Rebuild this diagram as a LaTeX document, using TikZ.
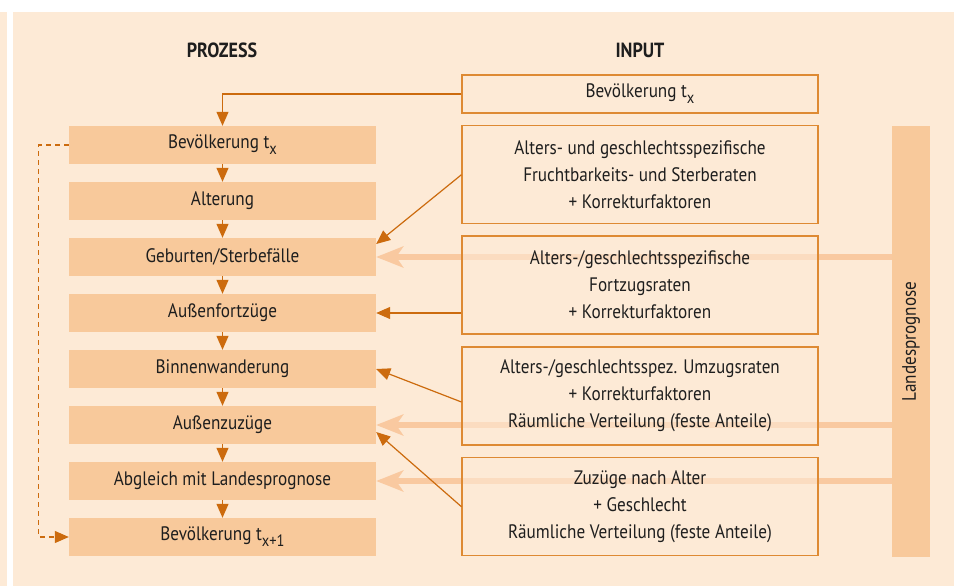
\documentclass[tikz,border=0pt]{standalone}
\usepackage{fontspec}
\setmainfont{PT Sans}[FakeStretch=0.88]
\usetikzlibrary{arrows.meta}
\definecolor{bg}{HTML}{FDEAD6}
\definecolor{pbox}{HTML}{F8C99B}
\definecolor{iborder}{HTML}{DE8A33}
\definecolor{arr}{HTML}{CC6B0E}
\definecolor{thickc}{HTML}{F9C9A0}
\definecolor{txt}{HTML}{1E1E1E}
\newcommand{\subx}[1]{\raisebox{-6pt}{\fontsize{16.5}{16.5}\selectfont #1}}
\tikzset{
  proc/.style={fill=pbox, draw=none, minimum width=307pt, minimum height=38pt, inner sep=0pt, text=txt},
  inbox/.style={fill=bg, fill opacity=0.6, text opacity=1, draw=iborder, line width=1.1pt, minimum width=356pt, inner sep=0pt, align=center, text=txt},
  barbox/.style={fill=pbox, draw=none, minimum width=38pt, minimum height=430.7pt, inner sep=0pt},
  arrs/.style={draw=arr, line width=1.2pt, -{Triangle[length=14pt,width=12pt]}},
  thickarr/.style={draw=thickc, line width=6pt, -{Stealth[length=27pt,width=21pt,inset=7pt]}},
  ttl/.style={font=\fontsize{20.5}{22}\selectfont\bfseries, text=txt}
}
\begin{document}
\begin{tikzpicture}[x=1pt,y=-1pt, font=\fontsize{19.5}{27}\selectfont]
\useasboundingbox (0,0) rectangle (954,586);
\fill[white] (0,0) rectangle (954,586);
\fill[bg] (0,12) rectangle (7,586);
\fill[bg] (13,12) rectangle (954,586);

\node[ttl] (tp) at (222,50) {PROZESS};
\node[ttl] (ti) at (640,50) {INPUT};

\node[proc] (p1) at (222.5,145) {Bevölkerung t\subx{x}};
\node[proc] (p2) at (222.5,201) {Alterung};
\node[proc] (p3) at (222.5,257) {Geburten/Sterbefälle};
\node[proc] (p4) at (222.5,313) {Außenfortzüge};
\node[proc] (p5) at (222.5,369) {Binnenwanderung};
\node[proc] (p6) at (222.5,425) {Außenzuzüge};
\node[proc] (p7) at (222.5,481) {Abgleich mit Landesprognose};
\node[proc] (p8) at (222.5,537) {Bevölkerung t\subx{x+1}};

\node[barbox] (bar) at (911,341.3) {};
\node[rotate=90, text=txt] (bart) at (bar.center) {Landesprognose};

\draw[thickarr] (bar.west |- p3.east) -- (p3.east);
\draw[thickarr] (bar.west |- p6.east) -- (p6.east);
\draw[thickarr] (bar.west |- p7.east) -- (p7.east);

\node[inbox, minimum height=38pt] (i1) at (640,94) {Bevölkerung t\subx{x}};
\node[inbox, minimum height=98pt] (i2) at (640,174.7) {Alters- und geschlechtsspezifische\\Fruchtbarkeits- und Sterberaten\\+ Korrekturfaktoren};
\node[inbox, minimum height=98pt] (i3) at (640,285) {Alters-/geschlechtsspezifische\\Fortzugsraten\\+ Korrekturfaktoren};
\node[inbox, minimum height=98pt] (i4) at (640,396) {Alters-/geschlechtsspez. Umzugsraten\\+ Korrekturfaktoren\\Räumliche Verteilung (feste Anteile)};
\node[inbox, minimum height=98pt] (i5) at (640,506.7) {Zuzüge nach Alter\\+ Geschlecht\\Räumliche Verteilung (feste Anteile)};

\draw[arrs] (p1.south) -- (p2.north);
\draw[arrs] (p2.south) -- (p3.north);
\draw[arrs] (p3.south) -- (p4.north);
\draw[arrs] (p4.south) -- (p5.north);
\draw[arrs] (p5.south) -- (p6.north);
\draw[arrs] (p6.south) -- (p7.north);
\draw[arrs] (p7.south) -- (p8.north);

\draw[arrs] (i1.west) -| (p1.north);
\draw[arrs, dash pattern=on 5pt off 4pt] (p1.west) -- ++(-30,0) |- (p8.west);

\draw[arrs] (i2.west) -- ([yshift=13pt]p3.east);
\draw[arrs] (i3.west |- p4.east) -- (p4.east);
\draw[arrs] ([yshift=-6pt]i4.west) -- (p5.east);
\draw[arrs] (i5.west) -- ([yshift=-7pt]p6.east);
\end{tikzpicture}
\end{document}
